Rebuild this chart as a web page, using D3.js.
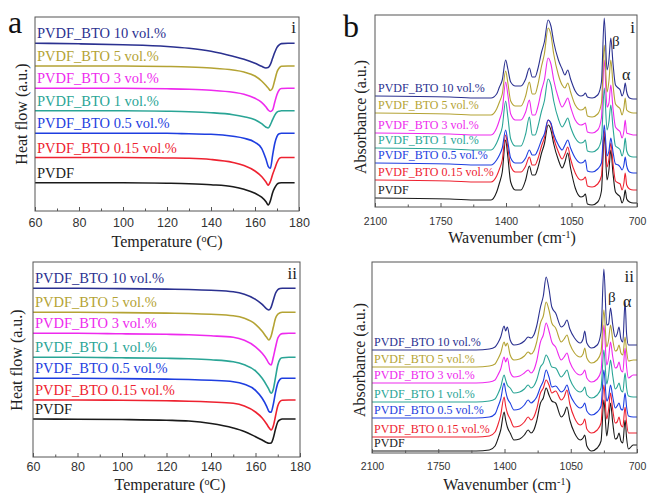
<!DOCTYPE html>
<html><head><meta charset="utf-8">
<script src="https://cdn.jsdelivr.net/npm/d3@7"></script>
<style>body{margin:0;background:#fff}svg{display:block}</style>
</head><body>
<svg id="chart" width="647" height="493"></svg>
<script>
// ---------- categories / labels ----------
const seriesLabels = ["PVDF_BTO 10 vol.%","PVDF_BTO 5 vol.%","PVDF_BTO 3 vol.%","PVDF_BTO 1 vol.%","PVDF_BTO 0.5 vol.%","PVDF_BTO 0.15 vol.%","PVDF"];
const seriesColors = ["#2b3190","#b4a334","#ee2aee","#2aa596","#1e3ee0","#ee2230","#1a1a1a"];
const tempTicks = [60,80,100,120,140,160,180];
const tempMinor = [70,90,110,130,150,170];
const wnTicks = [2100,1750,1400,1050,700];
const wnMinor = [1925,1575,1225,875];

// ---------- DSC (heat flow, a.u.) ----------
const dscTemps = [60,80,100,120,130,140,150,155,160,163,165,166,167,168,169,170,171,172,175,178];
// panel a-i
const dscI_10  = [167.7,167.2,166.2,164.5,162.7,159.7,154.7,151.7,147.7,144.7,143,143.4,146.7,152.7,158.7,163.7,166.2,167.4,167.7,167.7];
const dscI_5   = [145,145,145,144.5,144,143,141,139,135,130,125.5,123,120.5,123,131,139,143,144.7,145,145];
const dscI_3   = [122.7,122.7,122.7,122.2,121.7,120.7,118.7,116.7,112.7,108.7,104,101,99.5,101,109,116.5,121,122.5,122.7,122.7];
const dscI_1   = [100.3,100.3,100.3,99.8,99.3,98.3,96.3,94.3,91.3,87.3,83.8,83,86.3,91.3,95.8,98.8,99.8,100.3,100.3,100.3];
const dscI_05  = [77.7,77.7,77.7,77.7,77.2,76.7,74.7,72.7,68.7,62.7,51.7,44.7,42.7,55.7,67.7,74.7,77.2,77.7,77.7,77.7];
const dscI_015 = [53.5,53.5,53.5,53,52.7,51.5,48.5,45.5,40,34.5,29,25.9,29.5,36.5,42.5,48.5,52.5,53.5,53.5,53.5];
const dscI_0   = [28.3,28.3,28.3,27.8,27.3,26.3,24.3,21.8,17.8,13.8,9.3,6,10.3,18.3,23.3,26.8,28,28.3,28.3,28.3];
// panel a-ii
const dscII_10  = [168.7,168.7,168.4,167.9,167.5,166.7,165.2,162.7,157.7,152.7,148.2,147.0,149.7,156.7,163.7,167.2,168.4,168.7,168.7,168.7];
const dscII_5   = [144.7,144.7,144.4,143.9,143.5,142.7,141.2,138.7,132.7,125.7,119.7,117.0,120.7,129.7,138.7,142.7,144.2,144.7,144.7,144.7];
const dscII_3   = [123.7,123.7,123.2,122.7,122.2,121.2,119.7,116.7,110.2,103.7,97.7,93.7,92.0,99.7,109.7,118.7,122.2,123.4,123.7,123.7];
const dscII_1   = [99.7,99.7,99.2,98.7,98.2,97.2,95.3,92.2,86.2,78.7,71.7,67.7,63.7,67.7,79.7,91.7,97.7,99.2,99.7,99.7];
const dscII_05  = [78.7,78.7,78.4,77.9,77.5,76.7,75.3,72.7,66.7,58.7,50.7,45.7,44.7,52.7,64.7,73.7,77.7,78.7,78.7,78.7];
const dscII_015 = [57,57,56.7,56.2,55.8,55,53.7,51,45,39,33,29.5,27,31,41,51,55.5,56.7,57,57];
const dscII_0   = [38,37.8,37.5,36.8,36,33.5,29,25.5,20.3,17,14.5,13.7,14,19,28,35,37.2,38,38,38];

// ---------- FTIR (absorbance, a.u.) ----------
const wnI = [2100,1700,1550,1480,1450,1435,1420,1402,1390,1375,1350,1320,1295,1275,1260,1245,1230,1210,1195,1175,1160,1145,1120,1100,1085,1070,1055,1030,1000,985,976,965,940,910,890,875,860,850,840,828,815,800,790,780,770,763,755,740,720,700];
const irI_10  = [111,110,109,109,113,120,127,147,138,125,121,121,128,139,130,130,138,155,165,187,181,165,147,138,132,137,128,116,111,112,114,110,109,112,125,189,137,147,169,143,122,119,117,111,116,124,115,109,108,108];
const irI_5   = [94,93,92,92,98,105,113,136,124,106,101,101,111,125,113,113,122,141,153,179,172,153,132,122,119,124,115,102,97,98,100,91,90,93,104,162,115,126,147,122,103,100,98,92,99,109,97,95,94,94];
const irI_3   = [74,73,72,72,79,87,97,125,112,93,87,87,95,107,92,92,100,117,127,149,143,127,109,100,104,109,100,87,82,83,84,75,74,77,89,147,100,104,122,98,80,77,75,69,76,87,74,73,72,72];
const irI_1   = [59,58,57,57,64,71,80,106,90,68,61,61,73,90,72,72,80,96,106,128,122,106,88,80,84,89,80,69,64,65,67,56,55,58,68,119,77,85,102,79,61,59,57,51,58,69,56,51,50,50];
const irI_05  = [44,43,42,42,47,52,59,77,65,49,44,44,49,57,52,52,57,67,73,87,84,73,62,57,62,67,59,49,44,45,47,36,35,38,44,82,51,56,69,55,43,42,40,37,42,50,41,35,34,34];
const irI_015 = [27,26,25,25,31,38,47,72,59,41,35,35,41,50,42,42,48,61,69,87,83,69,55,48,53,60,48,34,27,28,30,21,20,23,31,77,40,48,64,43,26,24,23,17,24,34,22,18,17,17];
const irI_0   = [9,8,7,7,15,24,35,67,50,25,17,17,27,41,32,32,39,54,63,82,77,63,47,39,45,54,39,19,10,11,13,3,2,5,16,72,27,37,57,33,15,12,10,4,9,17,8,5,4,4];

const wnII = [2100,1700,1550,1480,1450,1435,1420,1402,1394,1385,1370,1350,1320,1295,1275,1260,1245,1230,1210,1195,1180,1165,1150,1130,1100,1085,1070,1055,1030,1000,985,976,965,940,910,890,875,860,850,840,828,815,805,795,785,775,763,755,745,720,700];
const irII_10  = [103,103,103,104,106,110,116,127,122,126,113,108,109,112,116,115,118,127,146,157,176,164,146,140,126,128,133,124,115,110,114,122,110,105,108,121,184,128,129,145,128,116,119,126,114,111,151,119,108,108,108];
const irII_5   = [86,86,86,87,89,94,100,111,107,110,98,93,94,97,101,99,102,111,130,137,151,143,130,125,111,114,118,109,100,96,99,105,95,90,93,101,143,106,113,128,113,102,103,108,100,98,116,102,92,93,93];
const irII_3   = [70,70,70,71,73,78,84,96,91,95,81,76,77,80,83,80,83,92,111,118,130,122,111,106,93,96,100,91,82,78,80,83,75,71,74,82,128,88,95,111,96,85,86,91,83,81,105,86,75,78,78];
const irII_1   = [51,51,51,52,54,59,66,78,73,68,65,60,61,64,68,65,67,73,86,90,98,93,86,85,76,79,83,74,65,61,63,66,58,55,58,65,103,69,78,93,77,64,66,70,63,61,80,65,57,56,56];
const irII_05  = [35,35,35,36,39,46,54,70,62,55,50,43,44,48,53,50,52,56,66,72,83,76,66,67,61,63,68,59,50,45,47,50,42,38,41,47,83,52,56,68,56,45,47,50,44,43,60,46,37,36,36];
const irII_015 = [16,16,16,17,21,28,38,56,47,40,34,26,27,31,36,33,36,44,60,65,73,68,60,62,53,56,63,49,35,28,30,34,24,20,23,30,68,34,44,60,43,30,31,36,28,26,46,30,20,20,20];
const irII_0   = [2,2,2,3,7,14,23,41,33,26,20,13,14,18,23,20,23,32,50,55,65,58,52,50,36,39,46,33,20,13,15,18,7,2,5,12,53,17,31,50,30,14,15,20,12,10,33,15,4,8,8];

// ---------- drawing ----------
const SERIF = "'Liberation Serif','Times New Roman',serif";
const SANS = "'Liberation Sans',Arial,sans-serif";
const svg = d3.select("#chart");

const panels = [
  {id:"ai", box:[35,17,299,211], xDom:[60,180], yDom:[0,194], xs:dscTemps,
   series:[dscI_10,dscI_5,dscI_3,dscI_1,dscI_05,dscI_015,dscI_0], ticks:tempTicks, minor:tempMinor,
   tickFs:12.5, tickPad:7, lw:1.6, labFs:14.5, labX:37, labOff:5, roman:"i", romanX:296, romanY:33,
   xTitle:["Temperature (","o","C)"], xTitleX:167, xTitleY:247, yTitle:"Heat flow (a.u.)", yTitleX:21, yTitleY:114},
  {id:"aii", box:[33,262,300,457], xDom:[60,180], yDom:[0,195], xs:dscTemps,
   series:[dscII_10,dscII_5,dscII_3,dscII_1,dscII_05,dscII_015,dscII_0], ticks:tempTicks, minor:tempMinor,
   tickFs:12.5, tickPad:5.5, lw:1.6, labFs:14.5, labX:35, labOff:5, roman:"ii", romanX:297, romanY:279,
   xTitle:["Temperature (","o","C)"], xTitleX:170, xTitleY:489.5, yTitle:"Heat flow (a.u.)", yTitleX:16, yTitleY:360},
  {id:"bi", box:[375,15,637,207], xDom:[2100,700], yDom:[0,192], xs:wnI,
   series:[irI_10,irI_5,irI_3,irI_1,irI_05,irI_015,irI_0], ticks:wnTicks, minor:wnMinor,
   tickFs:10.5, tickPad:10.5, lw:1.1, labFs:12, labX:378, labOff:4, roman:"i", romanX:635, romanY:33,
   xTitle:["Wavenumber (cm","-1",")"], xTitleX:512, xTitleY:243, yTitle:"Absorbance (a.u.)", yTitleX:360, yTitleY:117,
   beta:[612,46], alpha:[622,80]},
  {id:"bii", box:[372,262,637,453], xDom:[2100,700], yDom:[0,191], xs:wnII,
   series:[irII_10,irII_5,irII_3,irII_1,irII_05,irII_015,irII_0], ticks:wnTicks, minor:wnMinor,
   tickFs:10.5, tickPad:9.5, lw:1.1, labFs:12, labX:374, labOff:4, roman:"ii", romanX:634, romanY:282,
   xTitle:["Wavenumber (cm","-1",")"], xTitleX:507, xTitleY:489.5, yTitle:"Absorbance (a.u.)", yTitleX:359, yTitleY:360,
   beta:[608,302], alpha:[623,307]}
];

panels.forEach(p => {
  const [l,t,r,b] = p.box;
  const x = d3.scaleLinear().domain(p.xDom).range([l,r]);
  const y = d3.scaleLinear().domain(p.yDom).range([b,t]);
  const g = svg.append("g");

  g.append("clipPath").attr("id","clip-"+p.id)
    .append("rect").attr("x",l).attr("y",t).attr("width",r-l).attr("height",b-t);

  const line = d3.line().x((d,i)=>x(p.xs[i])).y(d=>y(d)).curve(d3.curveMonotoneX);
  const order = d3.range(p.series.length).reverse();
  const lg = g.append("g").attr("clip-path","url(#clip-"+p.id+")");
  order.forEach(k => {
    lg.append("path").datum(p.series[k]).attr("d",line)
      .attr("fill","none").attr("stroke",seriesColors[k]).attr("stroke-width",p.lw)
      .attr("stroke-linejoin","round");
  });

  // series labels
  p.series.forEach((s,k) => {
    g.append("text").attr("x",p.labX).attr("y",y(s[0]) - p.labOff)
      .attr("font-family",SERIF).attr("font-size",p.labFs).attr("fill",seriesColors[k])
      .text(seriesLabels[k]);
  });

  // frame
  g.append("rect").attr("x",l).attr("y",t).attr("width",r-l).attr("height",b-t)
    .attr("fill","none").attr("stroke","#555").attr("stroke-width",1);

  // bottom axis
  const ax = g.append("g").attr("transform",`translate(0,${b})`)
    .call(d3.axisBottom(x).tickValues(p.ticks).tickSizeInner(-4).tickSizeOuter(0).tickPadding(p.tickPad).tickFormat(d=>d));
  ax.select(".domain").remove();
  ax.selectAll("line").attr("stroke","#555");
  ax.selectAll("text").attr("font-family",SANS).attr("font-size",p.tickFs).attr("fill","#333");
  const mx = g.append("g").attr("transform",`translate(0,${b})`)
    .call(d3.axisBottom(x).tickValues(p.minor).tickSizeInner(-2.5).tickSizeOuter(0).tickFormat(""));
  mx.select(".domain").remove();
  mx.selectAll("line").attr("stroke","#555");

  // x title
  const xt = g.append("text").attr("x",p.xTitleX).attr("y",p.xTitleY).attr("text-anchor","middle")
    .attr("font-family",SERIF).attr("font-size",16).attr("fill","#222");
  xt.append("tspan").text(p.xTitle[0]);
  xt.append("tspan").attr("dy",-5).attr("font-size",10).text(p.xTitle[1]);
  xt.append("tspan").attr("dy",5).text(p.xTitle[2]);

  // y title
  g.append("text").attr("transform",`translate(${p.yTitleX},${p.yTitleY}) rotate(-90)`)
    .attr("text-anchor","middle").attr("dy","0.35em")
    .attr("font-family",SERIF).attr("font-size",16).attr("fill","#222").text(p.yTitle);

  // roman numeral
  g.append("text").attr("x",p.romanX).attr("y",p.romanY).attr("text-anchor","end")
    .attr("font-family",SERIF).attr("font-size",17).attr("fill","#222").text(p.roman);

  if (p.beta) {
    g.append("text").attr("x",p.beta[0]).attr("y",p.beta[1])
      .attr("font-family",SERIF).attr("font-size",15).attr("fill","#222").text("β");
    g.append("text").attr("x",p.alpha[0]).attr("y",p.alpha[1])
      .attr("font-family",SERIF).attr("font-size",16).attr("fill","#222").text("α");
  }
});

// panel letters
svg.append("text").attr("x",8).attr("y",33).attr("font-family",SERIF).attr("font-size",32).attr("fill","#111").text("a");
svg.append("text").attr("x",343).attr("y",37).attr("font-family",SERIF).attr("font-size",32).attr("fill","#111").text("b");
</script>
</body></html>
